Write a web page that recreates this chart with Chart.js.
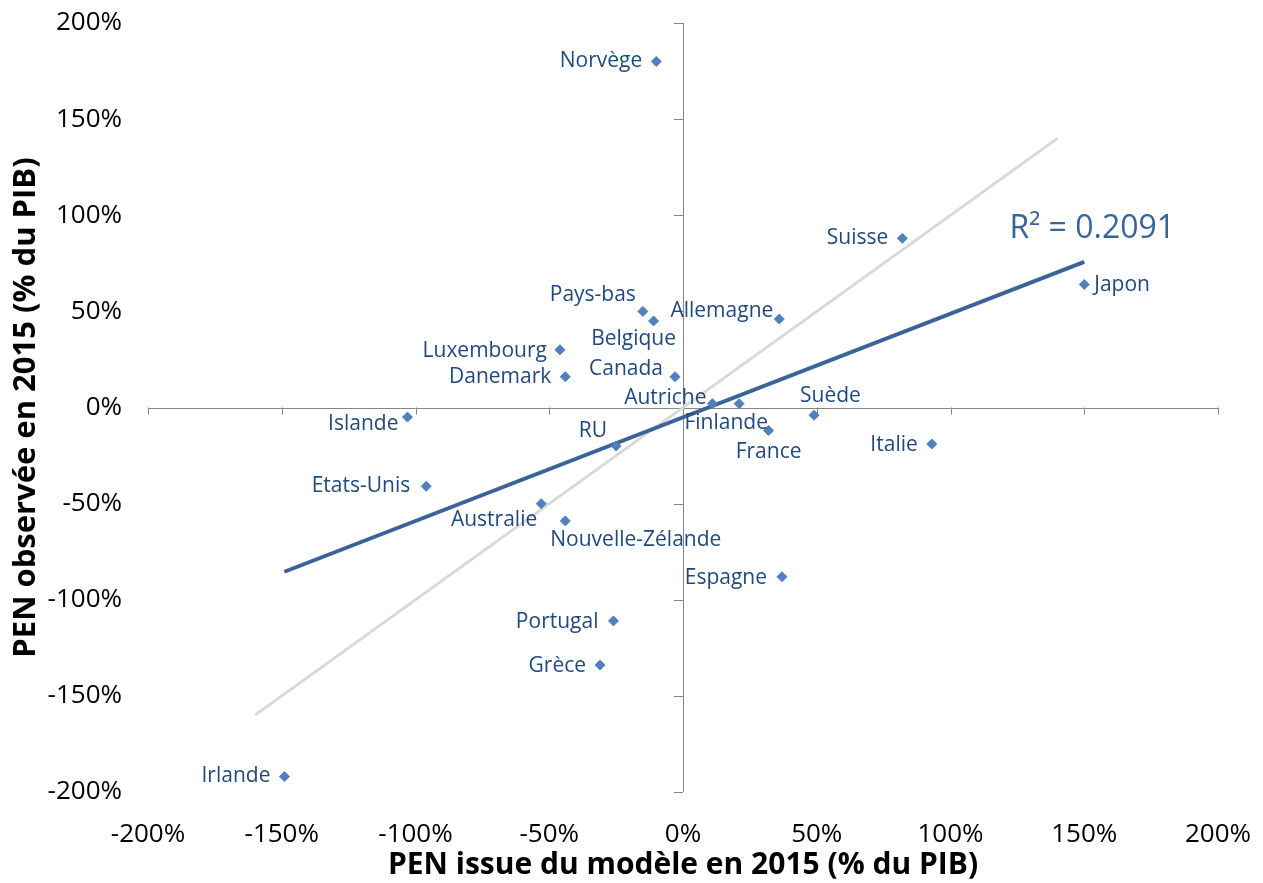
<!DOCTYPE html>
<html>
<head>
<meta charset="utf-8">
<title>PEN modèle vs observée</title>
<script src="https://cdn.jsdelivr.net/npm/chart.js"></script>
<style>
  html, body { margin: 0; padding: 0; background: #fff; }
  #wrap { position: relative; width: 1263px; height: 883px; }
</style>
</head>
<body>
<div id="wrap"><canvas id="myChart" width="1263" height="883"></canvas></div>
<script>
// pays, PEN issue du modèle (x) et PEN observée (y), en fraction du PIB
const countries = ['Norvège', 'Suisse', 'Japon', 'Pays-bas', 'Belgique', 'Allemagne', 'Luxembourg', 'Danemark',
  'Canada', 'Autriche', 'Finlande', 'France', 'Suède', 'Italie', 'Islande', 'RU', 'Etats-Unis', 'Australie',
  'Nouvelle-Zélande', 'Espagne', 'Portugal', 'Grèce', 'Irlande'];
const modelPEN = [-0.10, 0.82, 1.50, -0.15, -0.11, 0.36, -0.46, -0.44,
  -0.03, 0.11, 0.21, 0.32, 0.49, 0.93, -1.03, -0.25, -0.96, -0.53,
  -0.44, 0.37, -0.26, -0.31, -1.49];
const observedPEN = [1.80, 0.88, 0.64, 0.50, 0.45, 0.46, 0.30, 0.16,
  0.16, 0.02, 0.02, -0.12, -0.04, -0.19, -0.05, -0.20, -0.41, -0.50,
  -0.59, -0.88, -1.11, -1.34, -1.92];
// droite y = x
const diagX = [-1.6, 1.4];
const r2Label = 'R² = 0.2091';
const axisTicks = [-2, -1.5, -1, -0.5, 0, 0.5, 1, 1.5, 2];

// label placement: [anchor, dx, dy]
const labelPos = {
  'Norvège': ['r', -14, 0], 'Suisse': ['r', -14, 0], 'Japon': ['l', 10, 1],
  'Pays-bas': ['r', -7, -16], 'Belgique': ['c', -20, 18], 'Allemagne': ['r', -6, -8],
  'Luxembourg': ['r', -13, 1], 'Danemark': ['r', -14, 0], 'Canada': ['r', -12, -8],
  'Autriche': ['r', -6, -6], 'Finlande': ['c', -13, 19], 'France': ['c', 0, 21],
  'Suède': ['l', -14, -19], 'Italie': ['r', -14, 1], 'Islande': ['r', -9, 7],
  'RU': ['r', -9, -15], 'Etats-Unis': ['r', -16, 0], 'Australie': ['r', -4, 16],
  'Nouvelle-Zélande': ['l', -15, 19], 'Espagne': ['r', -15, 1], 'Portugal': ['r', -15, 1],
  'Grèce': ['r', -14, 1], 'Irlande': ['r', -14, -1]
};

const FONT = 'Open Sans';
const points = countries.map((c, i) => ({ x: modelPEN[i], y: observedPEN[i] }));

// tendance linéaire (moindres carrés)
const n = modelPEN.length;
const mx = modelPEN.reduce((a, b) => a + b, 0) / n;
const my = observedPEN.reduce((a, b) => a + b, 0) / n;
let sxy = 0, sxx = 0;
for (let i = 0; i < n; i++) {
  sxy += (modelPEN[i] - mx) * (observedPEN[i] - my);
  sxx += (modelPEN[i] - mx) * (modelPEN[i] - mx);
}
const slope = sxy / sxx;
const icpt = my - slope * mx;
const xmin = Math.min(...modelPEN), xmax = Math.max(...modelPEN);
const trend = [{ x: xmin, y: icpt + slope * xmin }, { x: xmax, y: icpt + slope * xmax }];

const centerAxes = {
  id: 'centerAxes',
  beforeDatasetsDraw(chart) {
    const { ctx, chartArea: a, scales: { x, y } } = chart;
    const x0 = x.getPixelForValue(0), y0 = y.getPixelForValue(0);
    ctx.save();
    ctx.strokeStyle = '#868686';
    ctx.lineWidth = 1;
    ctx.beginPath();
    ctx.moveTo(Math.round(x0) + 0.5, a.top);
    ctx.lineTo(Math.round(x0) + 0.5, a.bottom);
    ctx.moveTo(a.left, Math.round(y0) + 0.5);
    ctx.lineTo(a.right, Math.round(y0) + 0.5);
    axisTicks.forEach(v => {
      const px = Math.round(x.getPixelForValue(v)) + 0.5;
      ctx.moveTo(px, y0);
      ctx.lineTo(px, y0 + 7);
      const py = Math.round(y.getPixelForValue(v)) + 0.5;
      ctx.moveTo(x0, py);
      ctx.lineTo(x0 - 9, py);
    });
    ctx.stroke();
    ctx.restore();
  },
  afterDatasetsDraw(chart) {
    const { ctx, scales: { x, y } } = chart;
    ctx.save();
    ctx.fillStyle = '#1f497d';
    ctx.font = '21px "' + FONT + '"';
    ctx.textBaseline = 'middle';
    countries.forEach((c, i) => {
      const px = x.getPixelForValue(modelPEN[i]);
      const py = y.getPixelForValue(observedPEN[i]);
      const [anc, dx, dy] = labelPos[c];
      ctx.textAlign = anc === 'r' ? 'right' : anc === 'l' ? 'left' : 'center';
      ctx.fillText(c, px + dx, py + dy);
    });
    ctx.fillStyle = '#3a6399';
    ctx.font = '32px "' + FONT + '"';
    ctx.textAlign = 'center';
    ctx.fillText(r2Label, x.getPixelForValue(1.53), y.getPixelForValue(0.93));
    ctx.restore();
  }
};

const ctx = document.getElementById('myChart').getContext('2d');
const myChart = new Chart(ctx, {
  type: 'scatter',
  data: {
    datasets: [
      {
        label: 'PEN',
        data: points,
        order: 0,
        pointStyle: 'rectRot',
        pointRadius: 5,
        backgroundColor: '#4f81bd',
        borderColor: '#4f81bd',
        borderWidth: 1
      },
      {
        label: 'Tendance',
        type: 'line',
        data: trend,
        order: 1,
        borderColor: '#3a6399',
        borderWidth: 4,
        pointRadius: 0,
        fill: false
      },
      {
        label: 'y = x',
        type: 'line',
        data: diagX.map(v => ({ x: v, y: v })),
        order: 2,
        borderColor: '#d9d9d9',
        borderWidth: 3,
        pointRadius: 0,
        fill: false
      }
    ]
  },
  options: {
    responsive: false,
    animation: false,
    layout: { padding: { top: 23, right: 45, left: 0, bottom: 0 } },
    plugins: { legend: { display: false }, tooltip: { enabled: false } },
    scales: {
      x: {
        type: 'linear',
        min: -2, max: 2,
        border: { display: false },
        grid: { display: false },
        ticks: {
          stepSize: 0.5,
          padding: 19,
          color: '#000',
          font: { family: FONT, size: 26 },
          callback: v => Math.round(v * 100) + '%'
        },
        title: {
          display: true,
          text: 'PEN issue du modèle en 2015 (% du PIB)',
          color: '#000',
          font: { family: FONT, size: 30, weight: 'bold' },
          padding: { top: 0, bottom: 0 }
        },
        afterFit: s => { s.height = 91; s.paddingLeft = 0; s.paddingRight = 0; }
      },
      y: {
        type: 'linear',
        min: -2, max: 2,
        border: { display: false },
        grid: { display: false },
        ticks: {
          stepSize: 0.5,
          padding: 18,
          color: '#000',
          font: { family: FONT, size: 26 },
          callback: v => Math.round(v * 100) + '%'
        },
        title: {
          display: true,
          text: 'PEN observée en 2015 (% du PIB)',
          color: '#000',
          font: { family: FONT, size: 31, weight: 'bold' },
          padding: { top: 8, bottom: 0 }
        },
        afterFit: s => { s.width = 148; s.paddingTop = 0; s.paddingBottom = 0; }
      }
    }
  },
  plugins: [centerAxes]
});
</script>
</body>
</html>
